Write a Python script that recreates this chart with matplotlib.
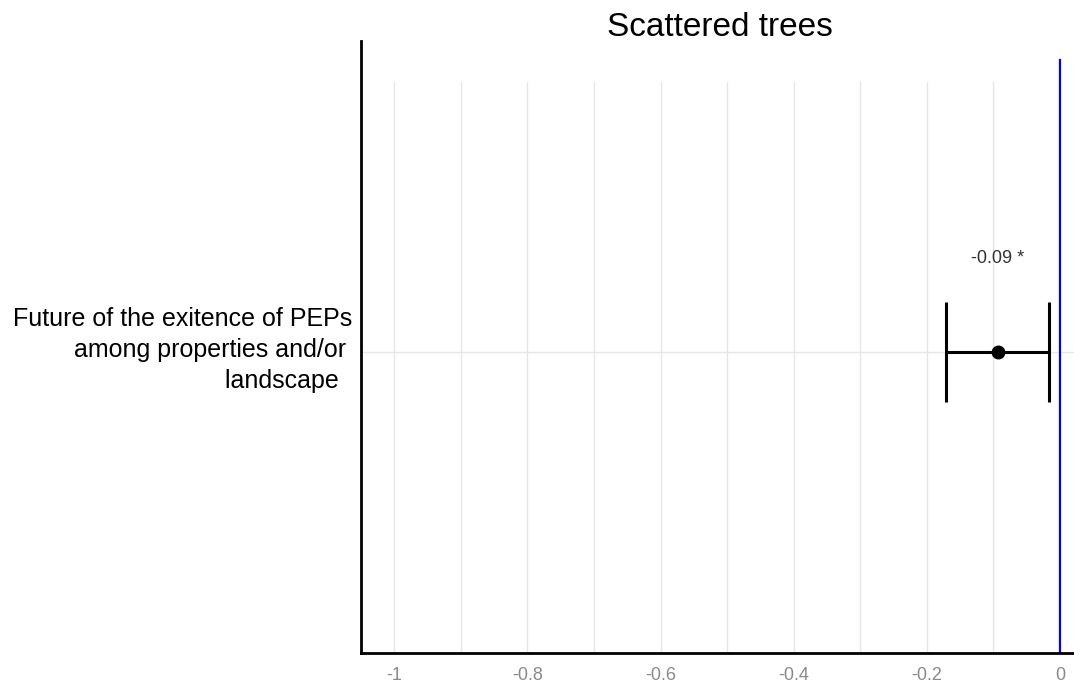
import matplotlib
matplotlib.use("Agg")
import matplotlib.pyplot as plt
from matplotlib.transforms import ScaledTranslation

# data
labels = ["Future of the exitence of PEPs\namong properties and/or \nlandscape  "]
estimates = [-0.093]
lower = [-0.171]
upper = [-0.0165]
annot = ["-0.09 *"]
xticks = [-1, -0.8, -0.6, -0.4, -0.2, 0]
xtick_labels = ["-1", "-0.8", "-0.6", "-0.4", "-0.2", "0"]
minor_grid = [-1, -0.9, -0.8, -0.7, -0.6, -0.5, -0.4, -0.3, -0.2, -0.1]

narrow = ["Liberation Sans Narrow", "Liberation Sans", "DejaVu Sans"]
plt.rcParams["font.family"] = ["Liberation Sans", "DejaVu Sans"]

fig = plt.figure(figsize=(10.74, 6.84), dpi=100)
ax = fig.add_axes([361 / 1074, 31 / 684, 713 / 1074, 612 / 684])

# vertical grid lines (start lower than the axis top, as in the reference)
for g in minor_grid:
    ax.axvline(g, ymin=0, ymax=0.933, color="#e6e6e6", lw=1, zorder=0)
ax.axhline(0, color="#e6e6e6", lw=1, zorder=0)
ax.axvline(0, ymin=0, ymax=0.969, color="#0000ff", lw=1.6, zorder=1)

y = list(range(len(labels)))
xerr = [[e - l for e, l in zip(estimates, lower)],
        [u - e for e, u in zip(estimates, upper)]]
ax.errorbar(estimates, y, xerr=xerr, fmt="o", color="black", ms=9,
            elinewidth=2.2, capsize=36, capthick=2.2, zorder=3)
for e, yy, t in zip(estimates, y, annot):
    ax.text(e, yy + 0.31, t, ha="center", va="center", fontsize=13,
            color="#333333", family=narrow)

ax.set_xlim(-1.05, 0.021)
ax.set_ylim(-1, 1.033)
ax.set_xticks(xticks)
ax.set_xticklabels(xtick_labels, family=narrow, fontsize=13, color="#8a8a8a")
ax.tick_params(axis="x", length=0, pad=10)
ax.set_yticks(y)
ax.set_yticklabels(labels, fontsize=18, linespacing=1.36)
ax.tick_params(axis="y", length=0, pad=6)
# label block sits a bit above the row in the reference
shift = ScaledTranslation(0, 0.08, fig.dpi_scale_trans)
for lab in ax.get_yticklabels():
    lab.set_transform(lab.get_transform() + shift)

for s in ["top", "right"]:
    ax.spines[s].set_visible(False)
ax.spines["left"].set_linewidth(2)
ax.spines["bottom"].set_linewidth(2)

fig.text(720 / 1074, 1 - 27 / 684, "Scattered trees", ha="center",
         va="center", fontsize=24)

fig.savefig("out.png", dpi=100)
